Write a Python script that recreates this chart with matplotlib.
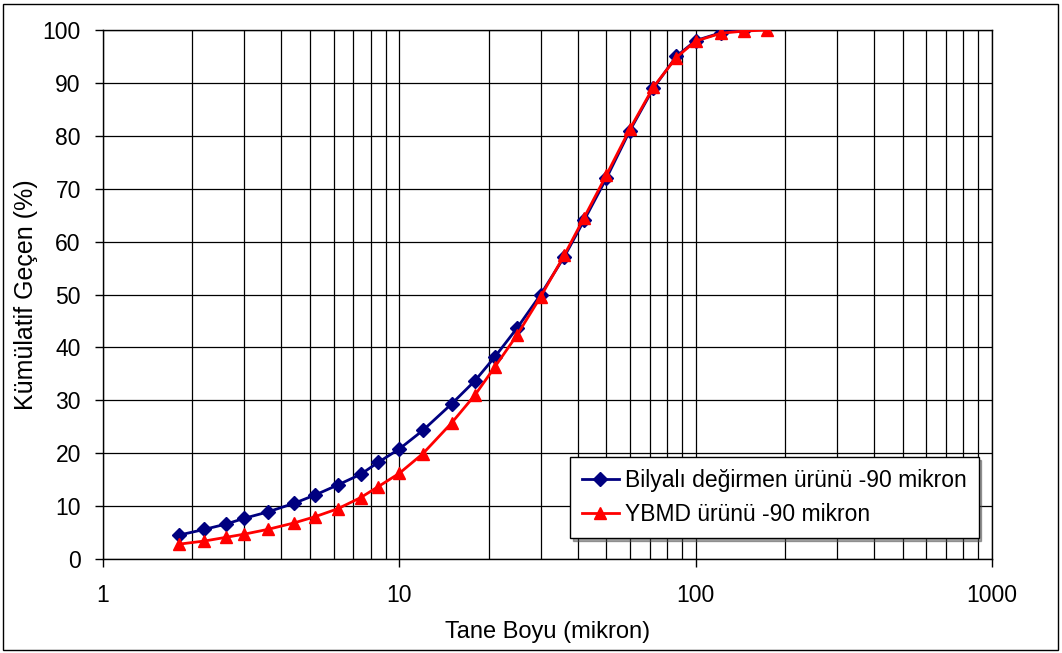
import matplotlib.pyplot as plt
from matplotlib.patches import Rectangle

plt.rcParams['font.family'] = ['Liberation Sans', 'DejaVu Sans']

# tane boyu (mikron)
boyut = [1.8, 2.2, 2.6, 3.0, 3.6, 4.4, 5.2, 6.2, 7.4, 8.5, 10, 12, 15, 18, 21,
         25, 30, 36, 42, 50, 60, 72, 86, 100, 122, 146, 174]

# kümülatif geçen (%)
bilyali = [4.5, 5.6, 6.6, 7.7, 8.9, 10.5, 12.1, 14.0, 16.0, 18.3, 20.8, 24.3,
           29.3, 33.7, 38.2, 43.7, 50.0, 57.1, 64.0, 72.0, 81.0, 89.0, 95.0,
           98.0, 99.5, 100.0]
ybmd = [2.8, 3.4, 4.1, 4.7, 5.6, 6.8, 8.0, 9.5, 11.6, 13.7, 16.2, 19.9, 25.7,
        31.0, 36.3, 42.4, 49.6, 57.4, 64.5, 72.6, 81.3, 89.2, 94.8, 97.9, 99.4,
        99.8, 100.0]

fig = plt.figure(figsize=(10.62, 6.53), dpi=100)
ax = fig.add_axes([103 / 1062, 94 / 653, 889 / 1062, 529 / 653])

ax.plot(boyut[:len(bilyali)], bilyali, color='#000080', lw=2, marker='D',
        markersize=7, label='Bilyalı değirmen ürünü -90 mikron', zorder=3)
ax.plot(boyut, ybmd, color='#ff0000', lw=2, marker='^', markersize=9,
        label='YBMD ürünü -90 mikron', zorder=4)

ax.set_xscale('log')
ax.set_xlim(1, 1000)
ax.set_ylim(0, 100)
ax.set_yticks(range(0, 101, 10))
ax.set_xticks([1, 10, 100, 1000])
ax.set_xticklabels(['1', '10', '100', '1000'])
ax.xaxis.set_minor_formatter(plt.NullFormatter())
ax.tick_params(axis='x', which='minor', length=0)
ax.tick_params(axis='both', which='major', length=6, width=1, color='black',
               labelsize=16.5)
ax.tick_params(axis='x', pad=12)
ax.tick_params(axis='y', pad=10)

ax.grid(True, which='major', color='black', lw=0.9)
ax.grid(True, which='minor', axis='x', color='black', lw=0.9)
for s in ax.spines.values():
    s.set_color('black')
    s.set_linewidth(1)

ax.set_xlabel('Tane Boyu (mikron)', fontsize=17, labelpad=10)
ax.set_ylabel('Kümülatif Geçen (%)', fontsize=18, labelpad=3)

leg = ax.legend(loc='lower right', bbox_to_anchor=(0.985, 0.04),
                fontsize=16.5, frameon=True, fancybox=False, shadow=True,
                edgecolor='black', borderaxespad=0, handlelength=1.6,
                handletextpad=0.3, labelspacing=0.5, borderpad=0.5)
leg.get_frame().set_linewidth(1)

# dış çerçeve
fig.patches.append(Rectangle((3 / 1062, 3 / 653), 1055 / 1062, 646 / 653,
                             transform=fig.transFigure, fill=False,
                             edgecolor='black', lw=1))

fig.savefig('out.png', dpi=100)
